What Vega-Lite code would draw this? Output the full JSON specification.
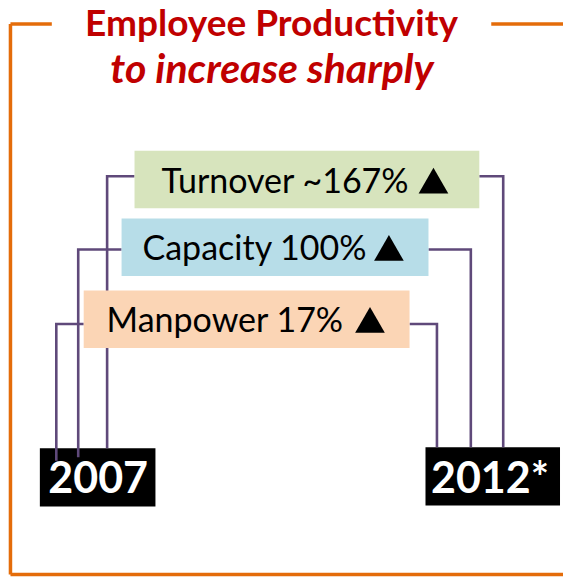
{
  "$schema": "https://vega.github.io/schema/vega-lite/v6.json",
  "width": 565,
  "height": 577,
  "autosize": {"type": "fit", "contains": "padding"},
  "padding": 0,
  "background": "white",
  "config": {"view": {"stroke": null}},
  "datasets": {
    "frame": [
      {"x1": 10.5, "y1": 24, "x2": 52, "y2": 24},
      {"x1": 10.5, "y1": 24, "x2": 10.5, "y2": 575.5},
      {"x1": 10.5, "y1": 575.5, "x2": 565, "y2": 575.5},
      {"x1": 493, "y1": 24, "x2": 565, "y2": 24}
    ],
    "links": [
      {"path": "Turnover L", "seq": 1, "x": 135, "y": 176.5},
      {"path": "Turnover L", "seq": 2, "x": 107.5, "y": 176.5},
      {"path": "Turnover L", "seq": 3, "x": 107.5, "y": 449},
      {"path": "Turnover R", "seq": 1, "x": 481, "y": 176.5},
      {"path": "Turnover R", "seq": 2, "x": 505, "y": 176.5},
      {"path": "Turnover R", "seq": 3, "x": 505, "y": 448},
      {"path": "Capacity L", "seq": 1, "x": 122, "y": 250},
      {"path": "Capacity L", "seq": 2, "x": 78.5, "y": 250},
      {"path": "Capacity L", "seq": 3, "x": 78.5, "y": 458},
      {"path": "Capacity R", "seq": 1, "x": 430, "y": 250},
      {"path": "Capacity R", "seq": 2, "x": 472.5, "y": 250},
      {"path": "Capacity R", "seq": 3, "x": 472.5, "y": 448},
      {"path": "Manpower L", "seq": 1, "x": 84, "y": 324.5},
      {"path": "Manpower L", "seq": 2, "x": 56.5, "y": 324.5},
      {"path": "Manpower L", "seq": 3, "x": 56.5, "y": 461.5},
      {"path": "Manpower R", "seq": 1, "x": 411, "y": 324.5},
      {"path": "Manpower R", "seq": 2, "x": 438.5, "y": 324.5},
      {"path": "Manpower R", "seq": 3, "x": 438.5, "y": 448}
    ],
    "boxes": [
      {"item": "Turnover", "kind": "metric", "x1": 135, "x2": 481, "y1": 151, "y2": 208.5},
      {"item": "Capacity", "kind": "metric", "x1": 122, "x2": 430, "y1": 219, "y2": 276.5},
      {"item": "Manpower", "kind": "metric", "x1": 84, "x2": 411, "y1": 291, "y2": 348.5},
      {"item": "2007", "kind": "year", "x1": 40, "x2": 156, "y1": 449, "y2": 507.5},
      {"item": "2012*", "kind": "year", "x1": 427, "x2": 562, "y1": 448, "y2": 506.5}
    ],
    "labels": [
      {"kind": "title", "text": "Employee Productivity", "x": 272.5, "y": 36},
      {"kind": "subtitle", "text": "to increase sharply", "x": 273, "y": 83},
      {"kind": "year", "text": "2007", "x": 98.5, "y": 494},
      {"kind": "year", "text": "2012*", "x": 491.7, "y": 494}
    ],
    "metrics": [
      {"item": "Turnover", "text": "Turnover ~167%", "change": 167, "x": 162, "y": 193.3, "ax": 435, "ay": 181},
      {"item": "Capacity", "text": "Capacity 100%", "change": 100, "x": 143, "y": 260.7, "ax": 390.3, "ay": 248.4},
      {"item": "Manpower", "text": "Manpower 17%", "change": 17, "x": 107, "y": 332.7, "ax": 371.3, "ay": 320.4}
    ]
  },
  "layer": [
    {
      "data": {"name": "frame"},
      "mark": {"type": "rule", "stroke": "#E46C0A", "strokeWidth": 3.5},
      "encoding": {
        "x": {"field": "x1", "type": "quantitative", "scale": {"domain": [0, 565], "nice": false, "zero": false}, "axis": null},
        "x2": {"field": "x2"},
        "y": {"field": "y1", "type": "quantitative", "scale": {"domain": [0, 577], "nice": false, "zero": false, "reverse": true}, "axis": null},
        "y2": {"field": "y2"}
      }
    },
    {
      "data": {"name": "boxes"},
      "transform": [{"filter": "datum.kind === 'year'"}],
      "mark": {"type": "rect", "fill": "#000000"},
      "encoding": {
        "x": {"field": "x1", "type": "quantitative"},
        "x2": {"field": "x2"},
        "y": {"field": "y1", "type": "quantitative"},
        "y2": {"field": "y2"}
      }
    },
    {
      "data": {"name": "links"},
      "mark": {"type": "line", "stroke": "#5F497A", "strokeWidth": 2.6, "strokeJoin": "miter"},
      "encoding": {
        "x": {"field": "x", "type": "quantitative"},
        "y": {"field": "y", "type": "quantitative"},
        "detail": {"field": "path"},
        "order": {"field": "seq"}
      }
    },
    {
      "data": {"name": "boxes"},
      "transform": [{"filter": "datum.kind === 'metric'"}],
      "mark": {"type": "rect"},
      "encoding": {
        "x": {"field": "x1", "type": "quantitative"},
        "x2": {"field": "x2"},
        "y": {"field": "y1", "type": "quantitative"},
        "y2": {"field": "y2"},
        "fill": {"field": "item", "type": "nominal", "legend": null,
                 "scale": {"domain": ["Turnover", "Capacity", "Manpower"], "range": ["#D7E4BD", "#B7DDE8", "#FBD5B5"]}}
      }
    },
    {
      "data": {"name": "labels"},
      "transform": [{"filter": "datum.kind === 'title'"}],
      "mark": {"type": "text", "font": "Lato", "fontWeight": "bold", "fontSize": 37, "fill": "#C00000", "align": "center", "baseline": "alphabetic"},
      "encoding": {"x": {"field": "x", "type": "quantitative"}, "y": {"field": "y", "type": "quantitative"}, "text": {"field": "text"}}
    },
    {
      "data": {"name": "labels"},
      "transform": [{"filter": "datum.kind === 'subtitle'"}],
      "mark": {"type": "text", "font": "Lato", "fontWeight": "bold", "fontStyle": "italic", "fontSize": 41, "fill": "#C00000", "align": "center", "baseline": "alphabetic"},
      "encoding": {"x": {"field": "x", "type": "quantitative"}, "y": {"field": "y", "type": "quantitative"}, "text": {"field": "text"}}
    },
    {
      "data": {"name": "metrics"},
      "mark": {"type": "text", "font": "Lato", "fontSize": 34, "fill": "#000000", "align": "left", "baseline": "alphabetic"},
      "encoding": {"x": {"field": "x", "type": "quantitative"}, "y": {"field": "y", "type": "quantitative"}, "text": {"field": "text"}}
    },
    {
      "data": {"name": "metrics"},
      "mark": {"type": "point", "shape": "triangle-up", "filled": true, "fill": "#000000", "stroke": null, "size": 880, "opacity": 1},
      "encoding": {"x": {"field": "ax", "type": "quantitative"}, "y": {"field": "ay", "type": "quantitative"}}
    },
    {
      "data": {"name": "labels"},
      "transform": [{"filter": "datum.kind === 'year'"}],
      "mark": {"type": "text", "font": "Lato", "fontWeight": "bold", "fontSize": 43, "fill": "#FFFFFF", "align": "center", "baseline": "alphabetic"},
      "encoding": {"x": {"field": "x", "type": "quantitative"}, "y": {"field": "y", "type": "quantitative"}, "text": {"field": "text"}}
    }
  ]
}
